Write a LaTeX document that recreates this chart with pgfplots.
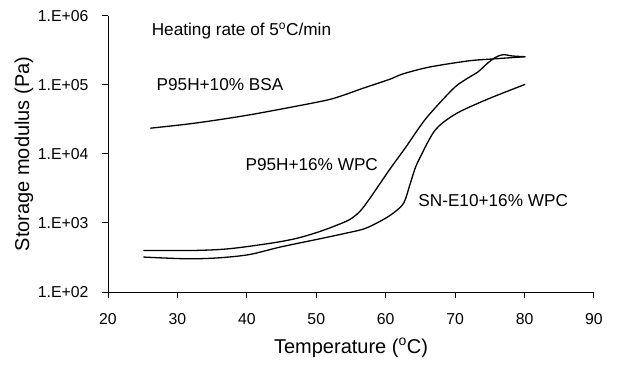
\documentclass[border=0pt]{standalone}
\usepackage{fontspec}
\setmainfont{Liberation Sans}
\usepackage{pgfplots}
\pgfplotsset{compat=1.18}
\begin{document}
\begin{tikzpicture}
\useasboundingbox (0pt,0pt) rectangle (621pt,365pt);
\begin{axis}[
  at={(108pt,73pt)}, anchor=south west,
  width=486pt, height=276pt, scale only axis,
  xmin=20, xmax=90, ymode=log, ymin=1e2, ymax=1e6,
  axis x line*=bottom, axis y line*=left,
  axis line style={-, line width=1pt},
  xtick={20,30,...,90},
  ytick={1e2,1e3,1e4,1e5,1e6},
  yticklabels={1.E+02,1.E+03,1.E+04,1.E+05,1.E+06},
  yminorticks=false,
  tick align=outside, major tick length=6pt,
  tick style={line width=1pt, black},
  /pgf/number format/assume math mode=true,
  ticklabel style={font=\fontsize{15.8}{18}\selectfont},
  xticklabel style={yshift=-12pt},
  yticklabel style={xshift=-10pt},
  xlabel={Temperature (\textsuperscript{o}C)},
  ylabel={Storage modulus (Pa)},
  label style={font=\fontsize{20}{23}\selectfont},
  xlabel style={at={(axis description cs:0.5,-0.203)}, anchor=center},
  ylabel style={at={(axis description cs:-0.173,0.5)}, anchor=center},
  clip=false,
]
\addplot[black, line width=1.3pt, smooth, tension=0.5] coordinates {
(26.1,23660) (32.4,27900) (40.3,36800) (50.5,57400) (53.3,67800) (56.7,89500)
(60.6,121300) (62.5,145000) (66.3,182000) (71.9,223400) (75.3,238000) (80.1,257000)
};
\addplot[black, line width=1.3pt, smooth, tension=0.5] coordinates {
(25.1,400) (32.4,400) (37.5,424) (43.7,514) (47.2,600) (50.0,724) (52.5,891)
(54.8,1120) (56.3,1480) (57.6,2190) (58.9,3390) (60.6,6030) (62.9,12600)
(64.6,22400) (66.0,34700) (68.5,66000) (70.2,97700) (72.0,129000) (73.3,155000)
(74.6,204000) (75.8,251000) (76.9,275000) (78.3,263000) (80.1,257000)
};
\addplot[black, line width=1.3pt, smooth, tension=0.5] coordinates {
(25.1,321) (31.3,303) (35.8,312) (40.3,348) (44.8,448) (50.5,590) (54.5,720)
(57.0,830) (59.5,1100) (61.2,1420) (62.6,1950) (63.5,3630) (64.3,6460)
(65.2,10000) (66.0,14450) (67.0,21400) (68.3,28800) (70.6,40740) (74.8,63100)
(80.1,102300)
};
\node[anchor=west, font=\fontsize{17.2}{20}\selectfont] at (axis cs:25.8,6.0e5) {Heating rate of 5\textsuperscript{o}C/min};
\node[anchor=west, font=\fontsize{17.2}{20}\selectfont] at (axis cs:26.5,1.02e5) {P95H+10\% BSA};
\node[anchor=west, font=\fontsize{17.2}{20}\selectfont] at (axis cs:39.3,7.1e3) {P95H+16\% WPC};
\node[anchor=west, font=\fontsize{17.2}{20}\selectfont] at (axis cs:64.2,2.1e3) {SN-E10+16\% WPC};
\end{axis}
\end{tikzpicture}
\end{document}
